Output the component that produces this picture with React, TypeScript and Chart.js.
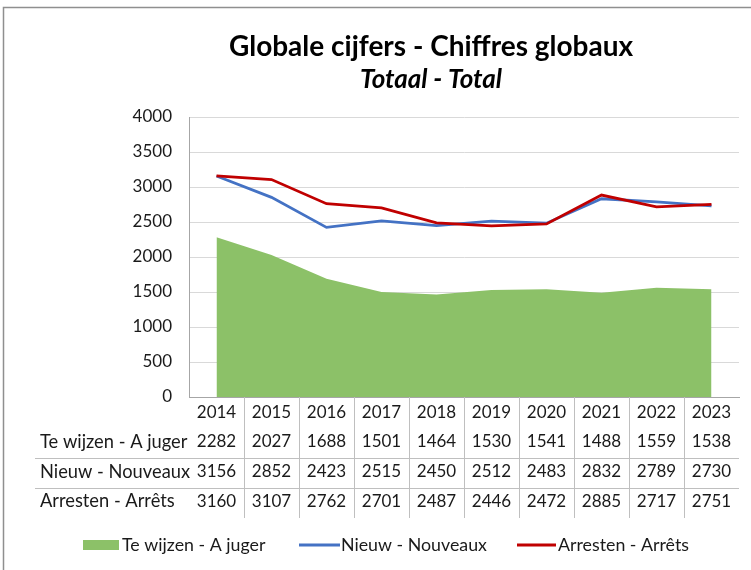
import React, { useEffect, useRef } from "react";
import { Chart, registerables } from "chart.js";

Chart.register(...registerables);

const years = ["2014", "2015", "2016", "2017", "2018", "2019", "2020", "2021", "2022", "2023"];
const teWijzen = [2282, 2027, 1688, 1501, 1464, 1530, 1541, 1488, 1559, 1538];
const nieuw = [3156, 2852, 2423, 2515, 2450, 2512, 2483, 2832, 2789, 2730];
const arresten = [3160, 3107, 2762, 2701, 2487, 2446, 2472, 2885, 2717, 2751];
const seriesNames = ["Te wijzen - A juger", "Nieuw - Nouveaux", "Arresten - Arrêts"];
const seriesColors = ["#8CC168", "#4472C4", "#C00000"];
const yMin = 0;
const yMax = 4000;
const yStep = 500;
const titleText = "Globale cijfers - Chiffres globaux";
const subtitleText = "Totaal - Total";

const FONT = "Lato, 'Open Sans', sans-serif";
const TEXT = "#1a1a1a";
const TABLE_LINE = "#bfbfbf";

const decorPlugin = {
  id: "decor",
  beforeDraw(chart: any) {
    const ctx = chart.ctx;
    ctx.save();
    ctx.fillStyle = "#ffffff";
    ctx.fillRect(0, 0, chart.width, chart.height);
    ctx.strokeStyle = "#8f8f8f";
    ctx.lineWidth = 1.5;
    ctx.strokeRect(3.5, 7.5, chart.width + 20, chart.height + 20);
    ctx.restore();
  },
  afterDraw(chart: any) {
    const ctx = chart.ctx;
    const area = chart.chartArea;
    const xs = chart.scales.x;
    ctx.save();

    // Titles
    ctx.fillStyle = "#000000";
    ctx.textAlign = "center";
    ctx.textBaseline = "middle";
    ctx.font = `bold 28px ${FONT}`;
    ctx.fillText(titleText, 431, 47);
    ctx.font = `italic bold 26px ${FONT}`;
    ctx.fillText(subtitleText, 431, 80);

    // Data table
    const rows = [teWijzen, nieuw, arresten];
    const top = area.bottom;
    const rowY = [top + 16, top + 45, top + 75, top + 104.5];
    const lineY = [top + 60.5, top + 90.5];
    const tableBottom = top + 121;

    ctx.strokeStyle = TABLE_LINE;
    ctx.lineWidth = 1;
    for (let i = 0; i < years.length - 1; i++) {
      const bx = Math.round((xs.getPixelForValue(i) + xs.getPixelForValue(i + 1)) / 2) + 0.5;
      ctx.beginPath();
      ctx.moveTo(bx, top);
      ctx.lineTo(bx, tableBottom);
      ctx.stroke();
    }
    for (const ly of lineY) {
      ctx.beginPath();
      ctx.moveTo(35, Math.round(ly) + 0.5);
      ctx.lineTo(area.right, Math.round(ly) + 0.5);
      ctx.stroke();
    }

    ctx.fillStyle = TEXT;
    ctx.font = `17px ${FONT}`;
    ctx.textAlign = "center";
    years.forEach((y, i) => ctx.fillText(y, xs.getPixelForValue(i), rowY[0]));
    rows.forEach((r, ri) => {
      ctx.textAlign = "left";
      ctx.font = `18.3px ${FONT}`;
      ctx.fillText(seriesNames[ri], 40, rowY[ri + 1]);
      ctx.textAlign = "center";
      ctx.font = `17px ${FONT}`;
      r.forEach((v, i) => ctx.fillText(String(v), xs.getPixelForValue(i), rowY[ri + 1]));
    });

    // Legend
    const ly = 545;
    ctx.font = `17.8px ${FONT}`;
    ctx.textAlign = "left";
    ctx.fillStyle = seriesColors[0];
    ctx.fillRect(83, ly - 5, 36, 10);
    ctx.fillStyle = TEXT;
    ctx.fillText(seriesNames[0], 122, ly);

    ctx.lineWidth = 3;
    ctx.strokeStyle = seriesColors[1];
    ctx.beginPath();
    ctx.moveTo(299, ly);
    ctx.lineTo(340, ly);
    ctx.stroke();
    ctx.fillText(seriesNames[1], 341, ly);

    ctx.strokeStyle = seriesColors[2];
    ctx.beginPath();
    ctx.moveTo(517, ly);
    ctx.lineTo(556, ly);
    ctx.stroke();
    ctx.fillText(seriesNames[2], 558, ly);

    ctx.restore();
  },
};

export default function App() {
  const ref = useRef<HTMLCanvasElement | null>(null);

  useEffect(() => {
    document.body.style.margin = "0";
    const canvas = ref.current;
    if (!canvas) return;
    const chart = new Chart(canvas, {
      type: "line",
      data: {
        labels: years,
        datasets: [
          {
            label: seriesNames[2],
            data: arresten,
            borderColor: seriesColors[2],
            backgroundColor: seriesColors[2],
            borderWidth: 2.75,
            pointRadius: 0,
            tension: 0,
            fill: false,
            order: 1,
          },
          {
            label: seriesNames[1],
            data: nieuw,
            borderColor: seriesColors[1],
            backgroundColor: seriesColors[1],
            borderWidth: 2.75,
            pointRadius: 0,
            tension: 0,
            fill: false,
            order: 2,
          },
          {
            label: seriesNames[0],
            data: teWijzen,
            borderColor: seriesColors[0],
            backgroundColor: seriesColors[0],
            borderWidth: 0,
            pointRadius: 0,
            tension: 0,
            fill: "origin",
            order: 3,
          },
        ],
      },
      options: {
        responsive: false,
        animation: false,
        devicePixelRatio: 1,
        layout: { padding: { top: 117, right: 12, bottom: 173, left: 0 } },
        plugins: {
          legend: { display: false },
          title: { display: false },
          tooltip: { enabled: false },
        },
        scales: {
          x: {
            offset: true,
            grid: { display: false, drawTicks: false },
            border: { display: true, color: "#a6a6a6", width: 1 },
            ticks: { display: false },
            afterFit: (s: any) => {
              s.height = 0;
            },
          },
          y: {
            min: yMin,
            max: yMax,
            ticks: {
              stepSize: yStep,
              color: TEXT,
              font: { family: FONT, size: 17 },
              padding: 17,
              callback: (v: any) => String(v),
            },
            grid: { color: "#d9d9d9", drawTicks: false, lineWidth: 1 },
            border: { display: true, color: "#a6a6a6", width: 1 },
            afterFit: (s: any) => {
              s.width = 189;
            },
          },
        },
      },
      plugins: [decorPlugin],
    });
    return () => chart.destroy();
  }, []);

  return (
    <div style={{ position: "absolute", left: 0, top: 0, width: 751, height: 570 }}>
      <canvas ref={ref} width={751} height={570} />
    </div>
  );
}
